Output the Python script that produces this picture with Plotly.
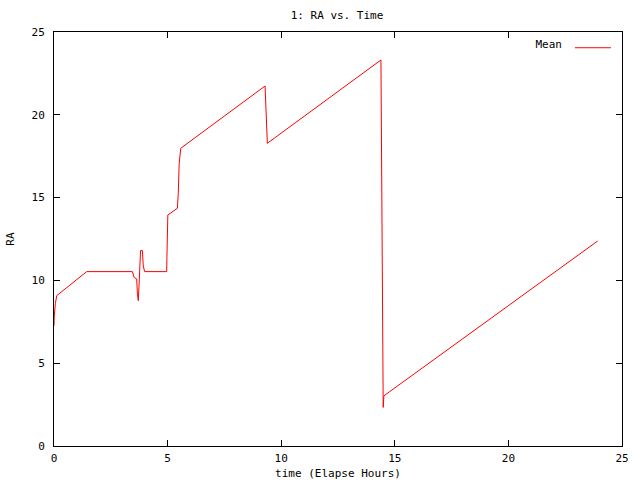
import plotly.graph_objects as go

time_hours = [0.0, 0.01, 0.06, 0.12, 1.44, 3.45, 3.53, 3.64, 3.67, 3.71, 3.74, 3.79,
              3.81, 3.89, 3.93, 3.99, 4.96, 4.97, 4.99, 5.01, 5.43, 5.47, 5.51, 5.58,
              9.29, 9.32, 9.36, 9.39, 14.39, 14.42, 14.47, 14.49, 14.52, 14.57, 23.93]
ra_mean = [7.26, 7.8, 8.6, 9.08, 10.53, 10.53, 10.17, 10.09, 9.22, 8.78, 9.62, 11.03,
           11.8, 11.8, 10.87, 10.53, 10.53, 11.37, 13.04, 13.95, 14.35, 15.26, 17.07, 17.98,
           21.74, 20.85, 19.18, 18.28, 23.31, 18.07, 7.61, 2.33, 3.0, 3.08, 12.38]
tick_vals = [0, 5, 10, 15, 20, 25]

FONT = "DejaVu Sans Mono"

fig = go.Figure()
fig.add_trace(go.Scatter(x=time_hours, y=ra_mean, mode="lines", name="",
                         line=dict(color="#ff0000", width=1), showlegend=True))

axis_common = dict(showline=True, linecolor="black", linewidth=1, mirror="ticks",
                   ticks="inside", ticklen=6, tickcolor="black", showgrid=False,
                   zeroline=False, tickvals=tick_vals, automargin=False,
                   tickfont=dict(family=FONT, size=11, color="black"))

fig.update_layout(
    width=640, height=480,
    margin=dict(l=54, r=18, t=32, b=34),
    paper_bgcolor="white", plot_bgcolor="white",
    title=dict(text="1: RA vs. Time", x=337 / 640, xanchor="center",
               y=1 - 15 / 480, yanchor="middle",
               font=dict(family=FONT, size=11, color="black")),
    xaxis=dict(range=[0, 25], ticklabelstandoff=2,
               title=dict(text="time (Elapse Hours)", standoff=6,
                          font=dict(family=FONT, size=11, color="black")),
               **axis_common),
    yaxis=dict(range=[0, 25], ticklabelstandoff=6,
               title=dict(text="RA", standoff=14,
                          font=dict(family=FONT, size=11, color="black")),
               **axis_common),
    showlegend=True,
    legend=dict(x=0.999, y=0.997, xanchor="right", yanchor="top",
                bgcolor="rgba(0,0,0,0)", borderwidth=0,
                title=dict(text="Mean", side="left",
                           font=dict(family=FONT, size=11, color="black")),
                font=dict(family=FONT, size=11, color="black"),
                itemwidth=36),
)

fig.write_html("out.html", config={"displayModeBar": False},
               post_script="document.body.style.margin='0px';")
